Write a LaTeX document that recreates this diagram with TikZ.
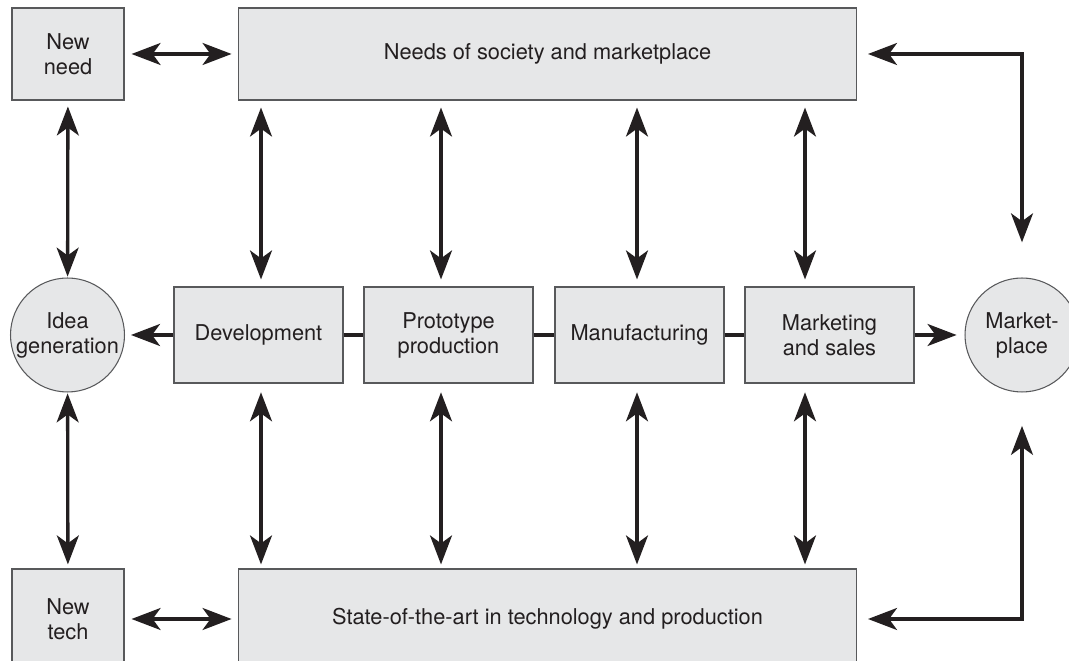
\documentclass[tikz,border=0pt]{standalone}
\usepackage{fontspec}
\setmainfont{TeX Gyre Heros}
\usetikzlibrary{arrows.meta,calc}
\definecolor{boxgrey}{HTML}{E6E7E8}
\definecolor{edgegrey}{HTML}{58595B}
\definecolor{inkblack}{HTML}{231F20}

\begin{document}
\begin{tikzpicture}[
		x=0.02cm, y=-0.02cm,
		font=\fontsize{12.4}{14.2}\selectfont,
		box/.style={draw=edgegrey, line width=0.6pt, fill=boxgrey, text=inkblack, align=center, inner sep=0},
		stage/.style={box, minimum width=3.38cm, minimum height=1.92cm},
		blob/.style={box, circle, minimum size=2.28cm},
		tip/.tip={Stealth[length=16.5pt,width=12.5pt,inset=4.5pt]},
		link/.style={inkblack, line width=1.9pt},
		dbl/.style={link, tip-tip},
		one/.style={link, -tip}
	]
		\useasboundingbox (0,0) rectangle (1069,661);
		\path
			(68,54) node[box, minimum width=2.24cm, minimum height=1.84cm](newneed){New\\need}
			(547.5,54) node[box, minimum width=12.38cm, minimum height=1.84cm](needs){Needs of society and marketplace}
			(67.5,335) node[blob](idea){Idea\\generation}
			(258.5,335) node[stage](dev){Development}
			(448.5,335) node[stage](proto){Prototype\\production}
			(639.5,335) node[stage](manuf){Manufacturing}
			(829.5,335) node[stage](mark){Marketing\\and sales}
			(1022,335) node[blob](market){Market-\\place}
			(68,619) node[box, minimum width=2.24cm, minimum height=2cm](newtech){New\\tech}
			(547.5,619) node[box, minimum width=12.38cm, minimum height=2cm](state){State-of-the-art in technology and production}
		;
		% left column
		\draw[dbl, shorten <=4pt, shorten >=3.4pt] (newneed) -- (needs);
		\draw[dbl, shorten <=4pt, shorten >=3.4pt] (newtech) -- (state);
		\draw[dbl, shorten <=3.4pt, shorten >=0.5pt] (newneed) -- (idea);
		\draw[dbl, shorten <=0.5pt, shorten >=2.3pt] (idea) -- (newtech);
		% the stages
		\draw[link] (dev) -- (proto) (proto) -- (manuf) (manuf) -- (mark);
		\draw[one, shorten >=3.4pt] (dev) -- (idea);
		\draw[one, shorten >=4.5pt] (mark) -- (market);
		\foreach \n/\dx in {dev/2.5,proto/-7.5,manuf/-2.5,mark/-24.5}{
			\draw[dbl, shorten <=4pt, shorten >=4pt] ($(needs.south -| \n.north)+(\dx,0)$) -- ($(\n.north)+(\dx,0)$);
			\draw[dbl, shorten <=5pt, shorten >=2.3pt] ($(\n.south)+(\dx,0)$) -- ($(state.north -| \n.south)+(\dx,0)$);
		}
		% right loop
		\draw[dbl, shorten <=6pt, shorten >=20pt] (needs.east) -| (market.north);
		\draw[dbl, shorten <=6pt, shorten >=19pt] (state.east) -| (market.south);
	\end{tikzpicture}
\end{document}
